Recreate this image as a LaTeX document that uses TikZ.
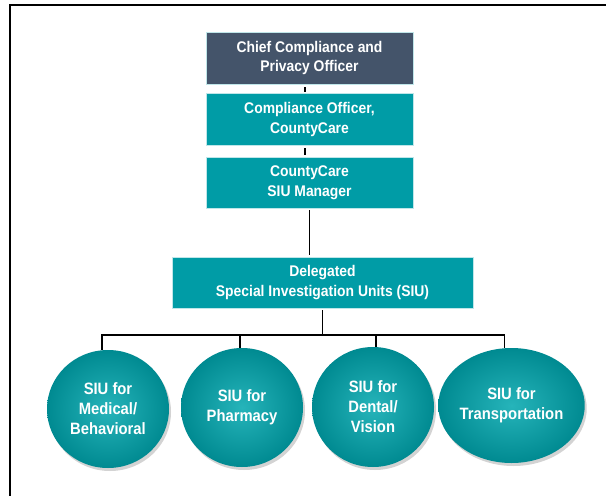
\documentclass[tikz,border=0pt]{standalone}
\usepackage{fontspec}
\setmainfont{Liberation Sans}
\newfontfamily\narrowfont[FakeStretch=0.9]{Liberation Sans}
\usetikzlibrary{shapes.geometric,shadows}
\definecolor{slatebox}{HTML}{44546A}
\definecolor{tealbox}{HTML}{009CA6}
\definecolor{tealhi}{HTML}{26B4BA}
\definecolor{tealdk}{HTML}{008A91}
\tikzset{
	rolebox/.style={fill=tealbox,draw=white!75!tealbox,line width=.6bp,text=white,align=center,
		minimum width=207bp,minimum height=52bp,inner sep=0pt,
		font=\narrowfont\fontsize{15.5}{20}\selectfont\bfseries},
	unit/.style={ellipse,inner color=tealhi,outer color=tealdk,text=white,align=center,inner sep=0pt,
		drop shadow={shadow xshift=2bp,shadow yshift=-3bp,opacity=.35},
		font=\narrowfont\fontsize{16.5}{20}\selectfont\bfseries},
	link/.style={line width=1.2bp,black}
}
\begin{document}
\begin{tikzpicture}[x=1bp,y=-1bp,line cap=rect]
	\useasboundingbox (0,0) rectangle (606,496);
	\draw[line width=2bp] (10,496)--(10,5)--(606,5);
	% upper chain
	\node[rolebox,fill=slatebox] (chief) at (309.5,58) {Chief Compliance and\\Privacy Officer};
	\node[rolebox] (comp) at (309.5,119.5) {Compliance Officer,\\CountyCare};
	\node[rolebox,minimum height=51bp] (mgr) at (309.5,182.5) {CountyCare\\SIU Manager};
	\node[rolebox,minimum width=301bp,minimum height=51bp] (deleg) at (322.5,282.5) {Delegated\\Special Investigation Units (SIU)};
	% units
	\node[unit,minimum width=122bp,minimum height=118bp] (med) at (108,409) {SIU for\\Medical/\\Behavioral};
	\node[unit,minimum width=122bp,minimum height=119bp] (pharm) at (242,407.5) {SIU for\\Pharmacy};
	\node[unit,minimum width=122bp,minimum height=120bp] (dent) at (373,407) {SIU for\\Dental/\\Vision};
	\node[unit,minimum width=135bp,minimum height=115bp] (trans) at (511.5,405.5) {SIU for\\Transportation};
	% connectors
	\draw[link,shorten <=3bp,shorten >=2bp] ([xshift=-4.5bp]chief.south)--([xshift=-4.5bp]comp.north);
	\draw[link,shorten <=3bp,shorten >=2bp] ([xshift=-4.5bp]comp.south)--([xshift=-4.5bp]mgr.north);
	\draw[link,shorten <=2bp,shorten >=2bp] (mgr.south)--(mgr.south |- deleg.north);
	\coordinate (bus) at (322.5,335);
	\draw[link,shorten <=2bp] (deleg.south)--(bus);
	\foreach \c/\dx in {med/-6,pharm/-2,dent/3,trans/-7}{
		\draw[link] ([xshift=\dx bp]\c.north)|-(bus);
	}
\end{tikzpicture}
\end{document}
